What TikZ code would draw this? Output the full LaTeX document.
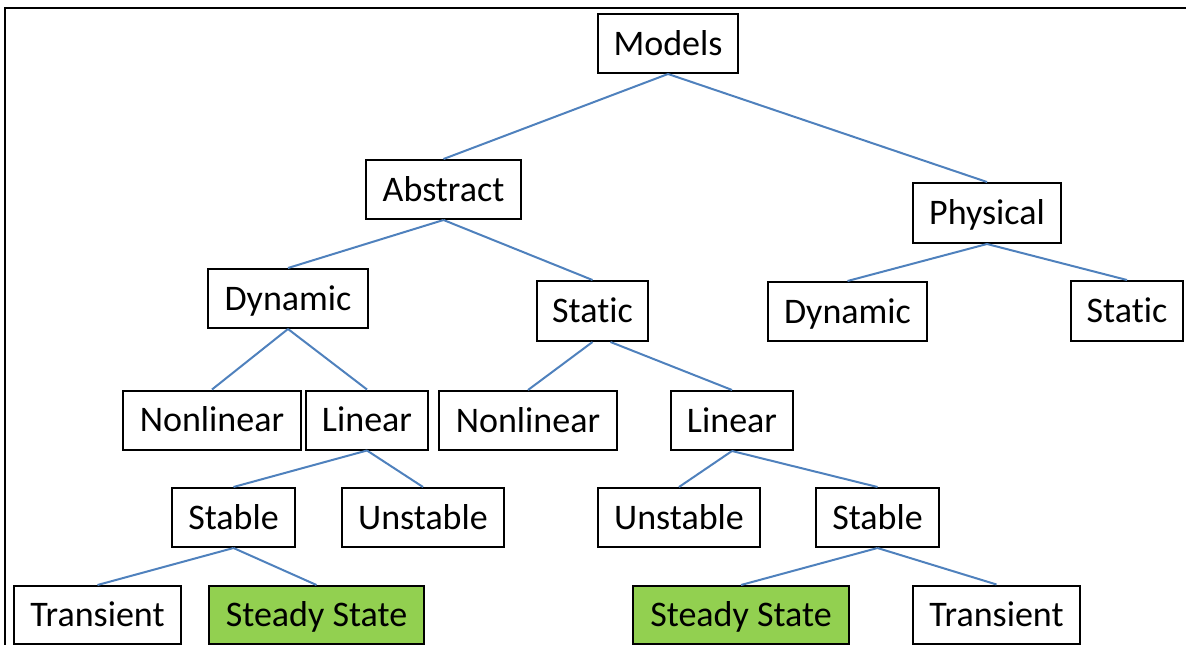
\documentclass[tikz,border=0pt]{standalone}
\usepackage{fontspec}
\setmainfont{Carlito}[RawFeature=-liga]
\definecolor{linkblue}{RGB}{79,129,189}
\definecolor{leafgreen}{RGB}{146,208,80}
\tikzset{
  box/.style={draw=black, line width=2pt, fill=white, rectangle, inner sep=0pt,
    minimum height=59pt, text height=23.2pt, text depth=0pt,
    font=\fontsize{36}{40}\selectfont},
  greenbox/.style={box, fill=leafgreen},
  link/.style={draw=linkblue, line width=2pt},
}
\begin{document}
\begin{tikzpicture}[x=1pt,y=-1pt]
\useasboundingbox (0,0) rectangle (1186,645);
\begin{scope}
\clip (0,0) rectangle (1186,645);
\draw[line width=2pt] (5,700) -- (5,8) -- (1250,8);
\end{scope}
% nodes
\node[box, minimum width=140pt] (models) at (668,43.5) {Models};
\node[box, minimum width=155pt] (abstract) at (443.5,189.5) {Abstract};
\node[box, minimum width=148pt, minimum height=60pt] (physical) at (987,213) {Physical};
\node[box, minimum width=160pt] (dynA) at (288,298.5) {Dynamic};
\node[box, minimum width=111pt, minimum height=60pt] (statA) at (592.5,311) {Static};
\node[box, minimum width=159pt] (dynP) at (847.5,311.5) {Dynamic};
\node[box, minimum width=112pt, minimum height=60pt] (statP) at (1127,311) {Static};
\node[box, minimum width=178pt] (nlD) at (212,420) {Nonlinear};
\node[box, minimum width=122pt] (linD) at (367,420) {Linear};
\node[box, minimum width=178pt] (nlS) at (528,420.5) {Nonlinear};
\node[box, minimum width=122pt] (linS) at (732,420.5) {Linear};
\node[box, minimum width=123pt] (stabL) at (233.5,517.5) {Stable};
\node[box, minimum width=162pt] (unstL) at (423,517.5) {Unstable};
\node[box, minimum width=162pt] (unstR) at (679,517.5) {Unstable};
\node[box, minimum width=123pt] (stabR) at (877.5,517.5) {Stable};
\node[box, minimum width=167pt, minimum height=58pt] (tranL) at (97.5,615) {Transient};
\node[greenbox, minimum width=215pt, minimum height=58pt] (steadL) at (316.5,615) {Steady State};
\node[greenbox, minimum width=216pt, minimum height=58pt] (steadR) at (741,615) {Steady State};
\node[box, minimum width=167pt, minimum height=58pt] (tranR) at (996.5,614.5) {Transient};
% connectors
\draw[link] (models.south) -- (abstract.north);
\draw[link] (models.south) -- (physical.north);
\draw[link] (abstract.south) -- (dynA.north);
\draw[link] (abstract.south) -- (statA.north);
\draw[link] (physical.south) -- (dynP.north);
\draw[link] (physical.south) -- (statP.north);
\draw[link] (dynA.south) -- (nlD.north);
\draw[link] (dynA.south) -- (linD.north);
\draw[link] (statA.south) -- (nlS.north);
\draw[link] ([xshift=18pt]statA.south) -- (linS.north);
\draw[link] (linD.south) -- (stabL.north);
\draw[link] (linD.south) -- (unstL.north);
\draw[link] (linS.south) -- (unstR.north);
\draw[link] (linS.south) -- (stabR.north);
\draw[link] (stabL.south) -- (tranL.north);
\draw[link] (stabL.south) -- (steadL.north);
\draw[link] (stabR.south) -- (steadR.north);
\draw[link] (stabR.south) -- (tranR.north);
\end{tikzpicture}
\end{document}
